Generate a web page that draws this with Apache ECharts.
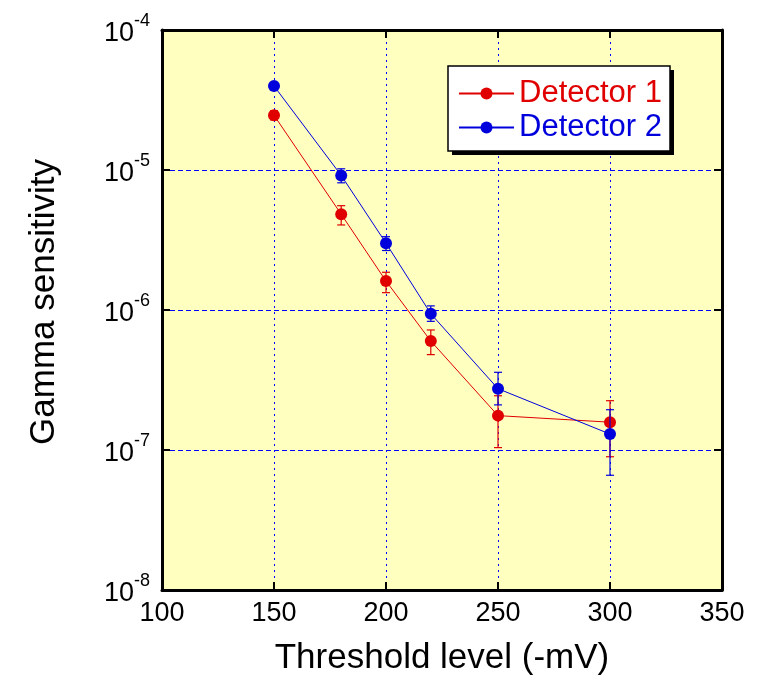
<!DOCTYPE html>
<html>
<head>
<meta charset="utf-8">
<script src="https://cdn.jsdelivr.net/npm/echarts@6/dist/echarts.min.js"></script>
<style>html,body{margin:0;padding:0;background:#fff;}#c{width:761px;height:689px;}</style>
</head>
<body>
<div id="c"></div>
<script>
const thresholds = [150, 180, 200, 220, 250, 300];
const det1 = [2.46e-5, 4.83e-6, 1.61e-6, 6.0e-7, 1.76e-7, 1.58e-7];
const det1Lo = [2.28e-5, 4.05e-6, 1.33e-6, 4.8e-7, 1.04e-7, 8.95e-8];
const det1Hi = [2.65e-5, 5.56e-6, 1.86e-6, 7.2e-7, 2.44e-7, 2.25e-7];
const det2 = [3.98e-5, 9.15e-6, 3.0e-6, 9.4e-7, 2.74e-7, 1.30e-7];
const det2Lo = [3.8e-5, 8.1e-6, 2.66e-6, 8.3e-7, 2.1e-7, 6.6e-8];
const det2Hi = [4.2e-5, 1.02e-5, 3.34e-6, 1.07e-6, 3.59e-7, 1.94e-7];
const xTicks = [100, 150, 200, 250, 300, 350];
const seriesNames = ['Detector 1', 'Detector 2'];

const RED = '#e00000', BLUE = '#0000dd';
const FONT = '"Liberation Sans", Arial, sans-serif';

function pairs(xs, ys) { return xs.map((x, i) => [x, ys[i]]); }
function errData(xs, lo, hi) { return xs.map((x, i) => [x, lo[i], hi[i]]); }
function errRender(color) {
  return function (params, api) {
    const x = api.value(0), lo = api.value(1), hi = api.value(2);
    const p1 = api.coord([x, lo]), p2 = api.coord([x, hi]);
    const w = 4;
    const st = { stroke: color, lineWidth: 1.2 };
    return { type: 'group', children: [
      { type: 'line', shape: { x1: p1[0], y1: p1[1], x2: p2[0], y2: p2[1] }, style: st },
      { type: 'line', shape: { x1: p1[0] - w, y1: p1[1], x2: p1[0] + w, y2: p1[1] }, style: st },
      { type: 'line', shape: { x1: p2[0] - w, y1: p2[1], x2: p2[0] + w, y2: p2[1] }, style: st }
    ]};
  };
}

const chart = echarts.init(document.getElementById('c'), null, { renderer: 'canvas' });
const axisLineStyle = { show: true, lineStyle: { color: '#000', width: 3 } };
const tickStyle = { show: true, inside: true, length: 8, lineStyle: { color: '#000', width: 2 } };

chart.setOption({
  animation: false,
  backgroundColor: '#fff',
  textStyle: { fontFamily: FONT },
  grid: { left: 162, right: 39, top: 30, bottom: 99, show: true, backgroundColor: '#ffffc0', borderWidth: 0 },
  graphic: [
    { type: 'rect', z: 10, shape: { x: 452, y: 70, width: 222, height: 85 }, style: { fill: '#000' } },
    { type: 'rect', z: 11, shape: { x: 448, y: 66, width: 222, height: 85 }, style: { fill: '#fff', stroke: '#000', lineWidth: 1.5 } }
  ],
  legend: {
    orient: 'vertical', left: 448, top: 66, z: 12,
    padding: [12, 12, 9, 10],
    itemWidth: 55, itemHeight: 15, itemGap: 3,
    textStyle: { fontSize: 31, fontFamily: FONT },
    data: [
      { name: seriesNames[0], textStyle: { color: RED } },
      { name: seriesNames[1], textStyle: { color: BLUE } }
    ]
  },
  xAxis: [{
    type: 'value', min: 100, max: 350, interval: 50,
    name: 'Threshold level (-mV)', nameLocation: 'middle', nameGap: 51,
    nameTextStyle: { fontSize: 35, color: '#000', fontFamily: FONT },
    axisLine: axisLineStyle, axisTick: tickStyle,
    axisLabel: { fontSize: 27, color: '#000', margin: 10, fontFamily: FONT,
      formatter: v => xTicks.includes(v) ? String(v) : '' },
    splitLine: { show: true, lineStyle: { color: '#0000ff', width: 1, type: [2, 4] } }
  }, {
    type: 'value', min: 100, max: 350, interval: 50, position: 'top',
    axisLine: axisLineStyle, axisTick: tickStyle, axisLabel: { show: false }, splitLine: { show: false }
  }],
  yAxis: [{
    type: 'log', logBase: 10, min: 1e-8, max: 1e-4, interval: 1,
    name: 'Gamma sensitivity', nameLocation: 'middle', nameGap: 100,
    nameTextStyle: { fontSize: 35, color: '#000', fontFamily: FONT, padding: [0, 0, 0, 16] },
    axisLine: axisLineStyle, axisTick: tickStyle,
    axisLabel: {
      margin: 12, color: '#000', fontFamily: FONT,
      formatter: v => '{b|10}{s|' + Math.round(Math.log10(v)) + '}',
      rich: {
        b: { fontSize: 27, lineHeight: 35, verticalAlign: 'bottom', fontFamily: FONT, color: '#000' },
        s: { fontSize: 18, lineHeight: 18, verticalAlign: 'top', fontFamily: FONT, color: '#000' }
      }
    },
    splitLine: { show: true, lineStyle: { color: '#0000ff', width: 1, type: [5, 3] } }
  }, {
    type: 'log', logBase: 10, min: 1e-8, max: 1e-4, interval: 1, position: 'right',
    axisLine: axisLineStyle, axisTick: tickStyle, axisLabel: { show: false }, splitLine: { show: false }
  }],
  series: [
    { name: 'err1', type: 'custom', renderItem: errRender(RED), data: errData(thresholds, det1Lo, det1Hi),
      encode: { x: 0, y: [1, 2] }, z: 1, silent: true },
    { name: seriesNames[0], type: 'line', data: pairs(thresholds, det1), symbol: 'circle', symbolSize: 12,
      itemStyle: { color: RED }, lineStyle: { color: RED, width: 1 }, z: 3 },
    { name: 'err2', type: 'custom', renderItem: errRender(BLUE), data: errData(thresholds, det2Lo, det2Hi),
      encode: { x: 0, y: [1, 2] }, z: 4, silent: true },
    { name: seriesNames[1], type: 'line', data: pairs(thresholds, det2), symbol: 'circle', symbolSize: 12,
      itemStyle: { color: BLUE }, lineStyle: { color: BLUE, width: 1 }, z: 5 }
  ]
});
</script>
</body>
</html>
